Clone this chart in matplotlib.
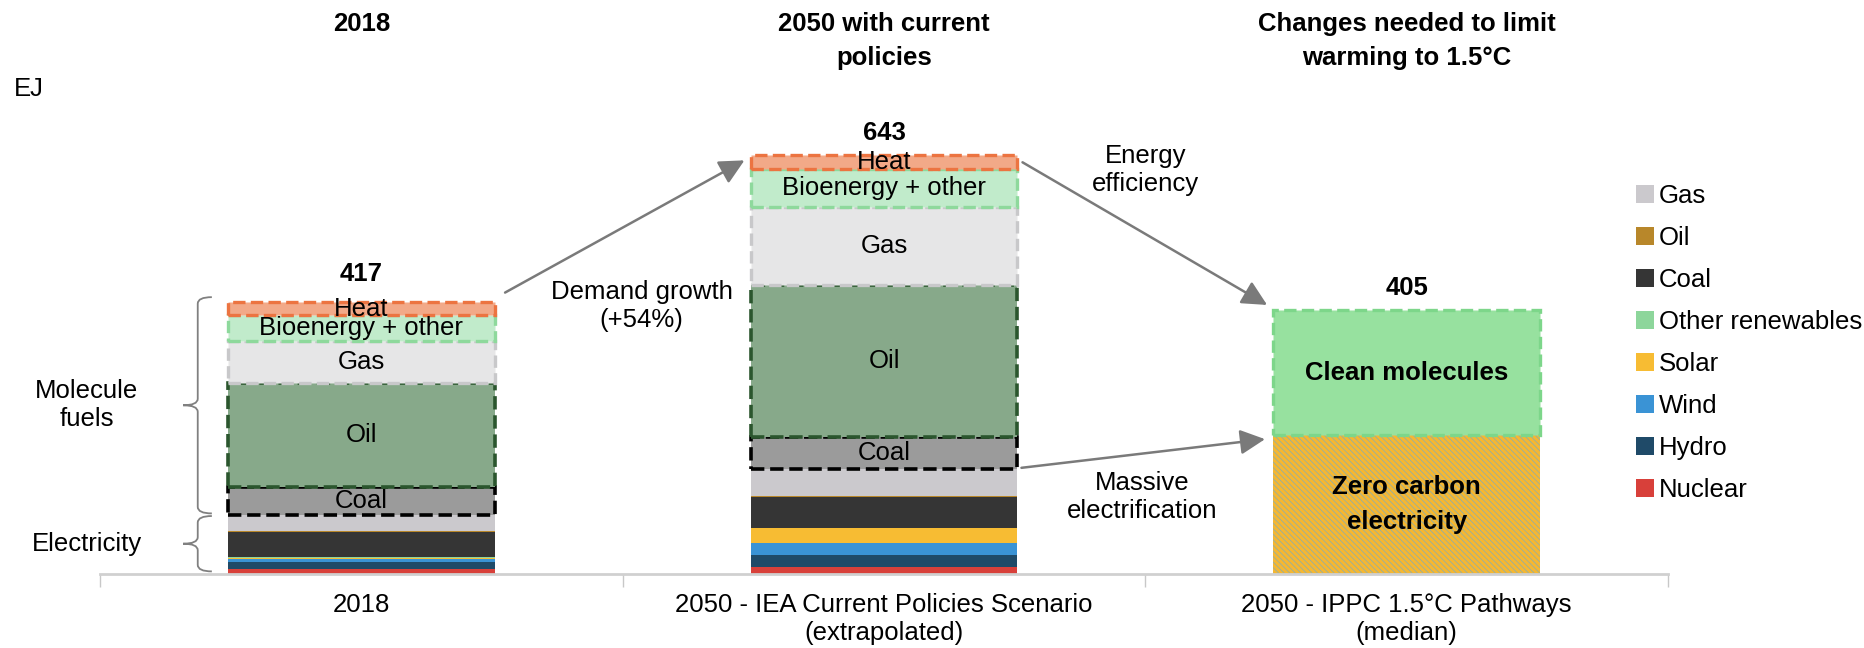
import matplotlib
matplotlib.use("Agg")
import matplotlib.pyplot as plt
from matplotlib import transforms
from matplotlib.patches import Patch, PathPatch
from matplotlib.path import Path

plt.rcParams["font.family"] = ["Liberation Sans", "DejaVu Sans"]
plt.rcParams["hatch.linewidth"] = 0.35

FS = 18.5

SCENARIOS = [
    "2018",
    "2050 - IEA Current Policies Scenario\n(extrapolated)",
    "2050 - IPPC 1.5°C Pathways\n(median)",
]
HEADERS = ["2018", "2050 with current\npolicies", "Changes needed to limit\nwarming to 1.5°C"]

# electricity by source, stacked bottom-up (EJ)
ELEC_SOURCES = ["Nuclear", "Hydro", "Wind", "Solar", "Other renewables", "Coal", "Oil", "Gas"]
ELEC_2018 = [7, 12, 4, 2, 1, 38, 2, 25]
ELEC_2050 = [10, 19, 18, 23, 1, 47, 1, 42]

# molecule fuels stacked on top of electricity (EJ)
MOLECULES = ["Coal", "Oil", "Gas", "Bioenergy + other", "Heat"]
MOL_2018 = [43, 159, 64, 41, 19]
MOL_2050 = [49, 234, 120, 58, 21]

# 1.5C pathway split (EJ)
PATHWAY_PARTS = ["Zero carbon\nelectricity", "Clean molecules"]
PATHWAY_1P5 = [213, 192]

ELEC_COLORS = {
    "Nuclear": "#D8403A",
    "Hydro": "#1F4A68",
    "Wind": "#3A93D5",
    "Solar": "#F7BC33",
    "Other renewables": "#8DD69B",
    "Coal": "#353535",
    "Oil": "#B8872A",
    "Gas": "#CBC9CD",
}
# fill, dashed edge, edge width
MOL_STYLE = {
    "Coal": ("#9B9B9B", "#000000", 2.6),
    "Oil": ("#87A98A", "#2B562E", 2.6),
    "Gas": ("#E6E6E7", "#C8C8CA", 2.4),
    "Bioenergy + other": ("#C1EBCB", "#8ED99C", 2.4),
    "Heat": ("#F2A988", "#EC7441", 2.4),
}

W = 0.51
# gap (points) between bar top and its total label; the 2018 "Heat" text sticks out
TOTAL_PAD = [12, 7, 7]
ARROW = dict(arrowstyle="-|>,head_length=0.4,head_width=0.2", color="#7A7A7A",
             lw=1.8, mutation_scale=38, shrinkA=0, shrinkB=0)

fig = plt.figure(figsize=(18.65, 6.48), dpi=100)
ax = fig.add_axes([100 / 1865, 74 / 648, 1568 / 1865, 456 / 648])
ax.set_xlim(-0.5, 2.5)
ax.set_ylim(0, 700)

totals = []
elec_tops = []
for i, (elec, mol) in enumerate([(ELEC_2018, MOL_2018), (ELEC_2050, MOL_2050)]):
    bottom = 0
    for src, v in zip(ELEC_SOURCES, elec):
        ax.bar(i, v, W, bottom=bottom, color=ELEC_COLORS[src], linewidth=0)
        bottom += v
    elec_tops.append(bottom)
    for name, v in zip(MOLECULES, mol):
        fill, edge, lw = MOL_STYLE[name]
        ax.bar(i, v, W, bottom=bottom, color=fill, edgecolor=edge,
               linewidth=lw, linestyle="--")
        ax.text(i, bottom + v / 2, name, ha="center", va="center",
                fontsize=FS, zorder=5)
        bottom += v
    totals.append(bottom)

# 1.5C pathway bar
zero_c, clean = PATHWAY_1P5
ax.bar(2, zero_c, W, color="#F4B733", edgecolor="#5AAAE6", linewidth=0,
       hatch="\\" * 6)
ax.bar(2, clean, W, bottom=zero_c, color="#97E19F", edgecolor="#7DD68A",
       linewidth=2.4, linestyle="--")
ax.text(2, zero_c / 2, PATHWAY_PARTS[0], ha="center", va="center",
        fontsize=FS, fontweight="bold", linespacing=1.6, zorder=5)
ax.text(2, zero_c + clean / 2, PATHWAY_PARTS[1], ha="center", va="center",
        fontsize=FS, fontweight="bold", zorder=5)
totals.append(zero_c + clean)

for i, t in enumerate(totals):
    ax.annotate(f"{t:.0f}", (i, t), xytext=(0, TOTAL_PAD[i]),
                textcoords="offset points", ha="center", va="bottom",
                fontsize=FS, fontweight="bold")

# transition arrows
half = W / 2
ax.annotate("", xy=(1 - half - 0.012, totals[1] - 8),
            xytext=(half + 0.02, totals[0] + 15), arrowprops=ARROW)
ax.text(0.536, 412, "Demand growth\n(+54%)", ha="center", va="center", fontsize=FS)
ax.annotate("", xy=(2 - half - 0.012, totals[2] + 8),
            xytext=(1 + half + 0.01, totals[1] - 11), arrowprops=ARROW)
ax.text(1.5, 620, "Energy\nefficiency", ha="center", va="center", fontsize=FS)
ax.annotate("", xy=(2 - half - 0.016, zero_c - 6),
            xytext=(1 + half + 0.008, elec_tops[1] + 2), arrowprops=ARROW)
ax.text(1.494, 118, "Massive\nelectrification", ha="center", va="center", fontsize=FS)


def brace(y0, y1, label):
    xe = -half - 0.031
    xs = -half - 0.058
    xt = -half - 0.086
    r = 10
    ym = (y0 + y1) / 2
    verts = [
        (xe, y1), (xs, y1), (xs, y1 - r),
        (xs, ym + r), (xs, ym), (xt, ym),
        (xs, ym), (xs, ym - r),
        (xs, y0 + r), (xs, y0), (xe, y0),
    ]
    codes = [Path.MOVETO, Path.CURVE3, Path.CURVE3,
             Path.LINETO, Path.CURVE3, Path.CURVE3,
             Path.CURVE3, Path.CURVE3,
             Path.LINETO, Path.CURVE3, Path.CURVE3]
    ax.add_patch(PathPatch(Path(verts, codes), fill=False, edgecolor="#808080",
                           lw=1.3, clip_on=False))
    ax.text(-0.525, ym, label, ha="center", va="center", fontsize=FS,
            clip_on=False)


brace(elec_tops[0] + 2, totals[0] + 8, "Molecule\nfuels")
brace(4, elec_tops[0] - 2, "Electricity")

# axes styling
for side in ["top", "right", "left"]:
    ax.spines[side].set_visible(False)
ax.spines["bottom"].set_color("#D0D0D0")
ax.spines["bottom"].set_linewidth(2)
ax.set_yticks([])
ax.set_xticks(range(3))
ax.set_xticklabels(SCENARIOS, fontsize=FS)
ax.tick_params(axis="x", which="major", length=0, pad=14)
ax.set_xticks([-0.5, 0.5, 1.5, 2.5], minor=True)
ax.tick_params(axis="x", which="minor", length=9, width=1, color="#C8C8C8")

# column headers
trans = transforms.blended_transform_factory(ax.transData, fig.transFigure)
for i, h in enumerate(HEADERS):
    fig.text(i, 1 - 12 / 648, h, transform=trans, ha="center", va="top",
             fontsize=FS, fontweight="bold", linespacing=1.55)
fig.text(14 / 1865, 1 - 89 / 648, "EJ", ha="left", va="center", fontsize=FS)

handles = [Patch(facecolor=ELEC_COLORS[s], edgecolor="none") for s in ELEC_SOURCES[::-1]]
fig.legend(handles, ELEC_SOURCES[::-1], loc="upper left",
           bbox_to_anchor=(1636 / 1865, 1 - 184 / 648), frameon=False,
           fontsize=FS, handlelength=0.7, handleheight=0.7, handletextpad=0.18,
           labelspacing=0.70, borderpad=0, borderaxespad=0)

fig.savefig("out.png", dpi=100)
